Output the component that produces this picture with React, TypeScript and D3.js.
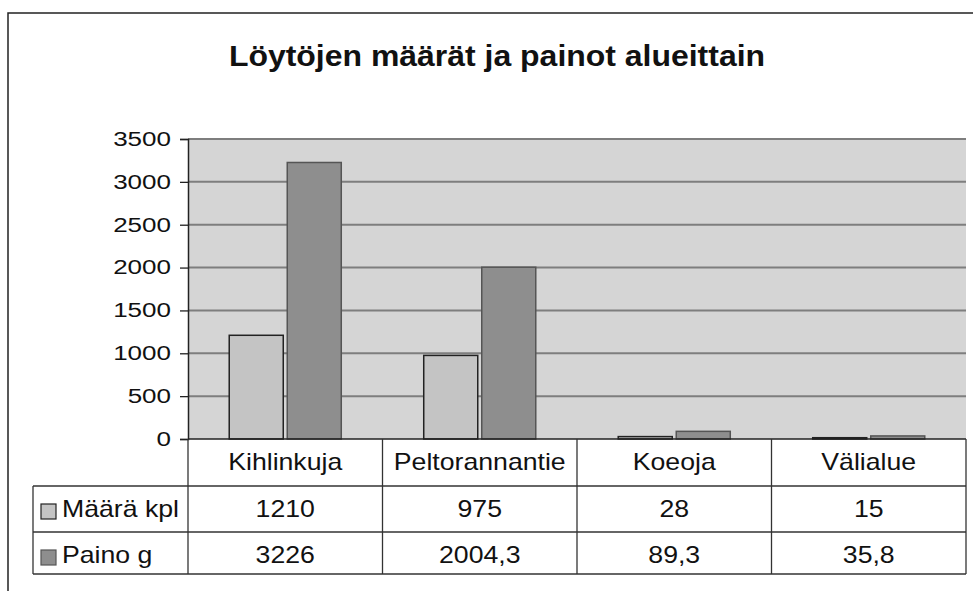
import React, { useEffect, useRef } from 'react'
import * as d3 from 'd3'

const title = 'Löytöjen määrät ja painot alueittain'
const categories = ['Kihlinkuja', 'Peltorannantie', 'Koeoja', 'Välialue']
const seriesNames = ['Määrä kpl', 'Paino g']
const maaraKpl = [1210, 975, 28, 15]
const painoG = [3226, 2004.3, 89.3, 35.8]
const yTicks = [0, 500, 1000, 1500, 2000, 2500, 3000, 3500]

const fmt = (v: number) => String(v).replace('.', ',')

// the scanned original is a bit wider than it is tall, so widen the glyphs
function stretch(sel: any, k: number) {
  sel.each(function (this: SVGTextElement) {
    const w = this.getComputedTextLength()
    this.setAttribute('textLength', String(w * k))
    this.setAttribute('lengthAdjust', 'spacingAndGlyphs')
  })
}

function drawChart(el: SVGSVGElement) {
  const svg = d3.select(el)
  svg.selectAll('*').remove()
  const font = '"Liberation Sans", Arial, sans-serif'
  const width = 973
  const height = 591

  const left = 188, right = 966, top = 139, bottom = 439
  const rowH = [47, 46, 42]
  const legendLeft = 33

  const series = [maaraKpl, painoG]
  const fills = ['#c4c4c4', '#8e8e8e']
  const strokes = ['#222', '#555']

  // frame
  svg.append('rect').attr('x', 8).attr('y', 13).attr('width', width).attr('height', height)
    .attr('fill', 'white').attr('stroke', '#222').attr('stroke-width', 1.5)

  const t = svg.append('text').attr('x', 497).attr('y', 66).attr('text-anchor', 'middle')
    .attr('font-family', font).attr('font-weight', 'bold').attr('font-size', 30)
    .attr('fill', '#111').text(title)
  stretch(t, 1.065)

  const x = d3.scaleBand().domain(categories).range([left, right])
    .paddingInner(0.424).paddingOuter(0.212)
  const xs = d3.scaleBand().domain(seriesNames).range([0, x.bandwidth()])
  const y = d3.scaleLinear().domain([0, 3500]).range([bottom, top])

  svg.append('rect').attr('x', left).attr('y', top).attr('width', right - left)
    .attr('height', bottom - top).attr('fill', '#d5d5d5')

  svg.append('g').selectAll('line').data(yTicks.filter(d => d > 0)).join('line')
    .attr('x1', left).attr('x2', right).attr('y1', d => y(d)).attr('y2', d => y(d))
    .attr('stroke', '#7e7e7e').attr('stroke-width', 2)

  const groups = svg.append('g').selectAll('g').data(categories).join('g')
    .attr('transform', d => `translate(${x(d)},0)`)
  groups.selectAll('rect').data((c, i) => series.map((s, k) => ({ k, v: s[i] }))).join('rect')
    .attr('x', d => xs(seriesNames[d.k])! + (d.k === 1 ? 2 : 0))
    .attr('width', xs.bandwidth() - 2)
    .attr('y', d => y(d.v)).attr('height', d => bottom - y(d.v))
    .attr('fill', d => fills[d.k]).attr('stroke', d => strokes[d.k]).attr('stroke-width', 1.5)

  // y axis
  const yAxis = svg.append('g').attr('transform', `translate(${left},0)`)
    .call(d3.axisLeft(y).tickValues(yTicks).tickSize(8).tickPadding(9).tickFormat(d => String(d)))
  yAxis.select('.domain').attr('stroke', '#222').attr('stroke-width', 1.5)
  yAxis.selectAll('.tick line').attr('stroke', '#222').attr('stroke-width', 1.3)
  const tickText = yAxis.selectAll('.tick text').attr('font-family', font).attr('font-size', 20).attr('fill', '#111')
  stretch(tickText, 1.3)
  svg.append('line').attr('x1', left).attr('x2', right).attr('y1', bottom).attr('y2', bottom)
    .attr('stroke', '#222').attr('stroke-width', 1.5)

  // data table
  const r0 = bottom, r1 = r0 + rowH[0], r2 = r1 + rowH[1], r3 = r2 + rowH[2]
  const tbl = svg.append('g').attr('stroke', '#333').attr('stroke-width', 1.3)
  const colEdges = categories.map(c => x(c)! - (x.step() - x.bandwidth()) / 2).concat([right])
  tbl.selectAll('line.col').data(colEdges).join('line').attr('class', 'col')
    .attr('x1', d => d).attr('x2', d => d).attr('y1', r0).attr('y2', r3)
  tbl.append('line').attr('x1', legendLeft).attr('x2', legendLeft).attr('y1', r1).attr('y2', r3)
  ;[r1, r2, r3].forEach(r => {
    tbl.append('line').attr('x1', legendLeft).attr('x2', right).attr('y1', r).attr('y2', r)
  })

  const catText = svg.append('g').selectAll('text').data(categories).join('text')
    .attr('x', d => x(d)! + x.bandwidth() / 2).attr('y', r0 + 31)
    .attr('text-anchor', 'middle').attr('font-family', font).attr('font-size', 24)
    .attr('fill', '#111').text(d => d)
  stretch(catText, 1.11)

  const rowsY = [r1, r2]
  series.forEach((s, k) => {
    const vals = svg.append('g').selectAll('text').data(s).join('text')
      .attr('x', (d, i) => x(categories[i])! + x.bandwidth() / 2).attr('y', rowsY[k] + 31)
      .attr('text-anchor', 'middle').attr('font-family', font).attr('font-size', 24)
      .attr('fill', '#111').text(d => fmt(d))
    stretch(vals, 1.11)
    svg.append('rect').attr('x', legendLeft + 8).attr('y', rowsY[k] + 18).attr('width', 15).attr('height', 15)
      .attr('fill', fills[k]).attr('stroke', strokes[k]).attr('stroke-width', 1.2)
    const lg = svg.append('text').attr('x', legendLeft + 29).attr('y', rowsY[k] + 31)
      .attr('font-family', font).attr('font-size', 24).attr('fill', '#111').text(seriesNames[k])
    stretch(lg, 1.11)
  })
}

const App = () => {
  const ref = useRef<SVGSVGElement>(null)
  useEffect(() => {
    document.body.style.margin = '0'
    if (ref.current) drawChart(ref.current)
  })
  return (
    <div style={{ background: 'white' }}>
      <svg ref={ref} width={973} height={591} style={{ display: 'block' }}></svg>
    </div>
  )
}

export default App
